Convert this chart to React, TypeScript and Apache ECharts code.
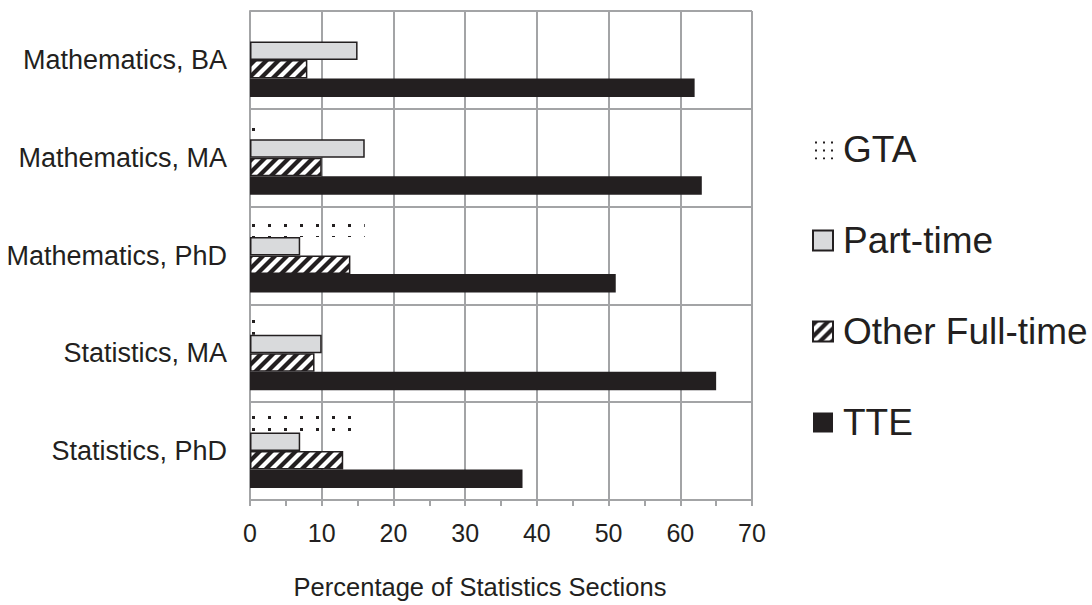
import React, { useEffect, useRef } from "react";
import * as echarts from "echarts";

const categories = [
  "Mathematics, BA",
  "Mathematics, MA",
  "Mathematics, PhD",
  "Statistics, MA",
  "Statistics, PhD",
];
const seriesNames = ["GTA", "Part-time", "Other Full-time", "TTE"];
const gtaValues = [0, 1, 16, 1, 15];
const partTimeValues = [15, 16, 7, 10, 7];
const otherFullTimeValues = [8, 10, 14, 9, 13];
const tteValues = [62, 63, 51, 65, 38];
const xMin = 0;
const xMax = 70;
const xInterval = 10;
const xAxisTitle = "Percentage of Statistics Sections";

const INK = "#231f20";
const GRID = "#a3a4a6";
const FONT = "'Liberation Sans', Arial, sans-serif";

function makeDots(w: number, h: number, x: number, y: number, s: number): HTMLCanvasElement {
  const c = document.createElement("canvas");
  c.width = w;
  c.height = h;
  const ctx = c.getContext("2d")!;
  ctx.clearRect(0, 0, w, h);
  ctx.fillStyle = INK;
  ctx.fillRect(x, y, s, s);
  return c;
}

function makeHatch(): HTMLCanvasElement {
  const s = 12;
  const w = 6;
  const c = document.createElement("canvas");
  c.width = s;
  c.height = s;
  const ctx = c.getContext("2d")!;
  ctx.fillStyle = "#ffffff";
  ctx.fillRect(0, 0, s, s);
  ctx.fillStyle = INK;
  for (let k = -1; k <= 1; k++) {
    ctx.beginPath();
    ctx.moveTo(k * s, s);
    ctx.lineTo(k * s + w, s);
    ctx.lineTo(k * s + w + s, 0);
    ctx.lineTo(k * s + s, 0);
    ctx.closePath();
    ctx.fill();
  }
  return c;
}

export default function App() {
  const ref = useRef<HTMLDivElement>(null);
  useEffect(() => {
    if (!ref.current) return;
    const chart = echarts.init(ref.current, undefined, { renderer: "svg" });
    const dots = makeDots(16, 12, 12, 8, 3);
    const legendDots = makeDots(8, 8, 2, 2, 2);
    const hatch = makeHatch();
    const barW = 18.5;
    const values = [gtaValues, partTimeValues, otherFullTimeValues, tteValues];
    const styles: any[] = [
      { color: { image: dots, repeat: "repeat" }, borderWidth: 0 },
      { color: "#d9dadc", borderColor: INK, borderWidth: 1.5 },
      { color: { image: hatch, repeat: "repeat" }, borderColor: INK, borderWidth: 1.5 },
      { color: INK, borderColor: INK, borderWidth: 0 },
    ];
    chart.setOption({
      animation: false,
      backgroundColor: "#ffffff",
      grid: { left: 250, right: 340, top: 11, bottom: 100, containLabel: false },
      legend: {
        orient: "vertical",
        left: 807,
        top: 126,
        icon: "rect",
        itemWidth: 20,
        itemHeight: 20,
        itemGap: 54,
        data: seriesNames.map((n, i) =>
          i === 0
            ? { name: n, itemStyle: { color: { image: legendDots, repeat: "repeat" }, borderWidth: 0 } }
            : { name: n }
        ),
        textStyle: { fontSize: 37, color: INK, fontFamily: FONT, padding: [0, 0, 0, 5] },
      },
      xAxis: {
        type: "value",
        min: xMin,
        max: xMax,
        interval: xInterval,
        name: xAxisTitle,
        nameLocation: "middle",
        nameGap: 74,
        nameTextStyle: { fontSize: 25.5, color: INK, fontFamily: FONT, padding: [0, 42, 0, 0] },
        axisLine: { show: true, lineStyle: { color: GRID, width: 2 } },
        axisTick: { show: true, length: 6, lineStyle: { color: GRID, width: 2 } },
        minorTick: { show: true, splitNumber: 2, length: 6, lineStyle: { color: GRID, width: 2 } },
        splitLine: { show: true, lineStyle: { color: GRID, width: 2 } },
        axisLabel: { fontSize: 25, color: INK, fontFamily: FONT, margin: 20 },
      },
      yAxis: {
        type: "category",
        data: categories,
        inverse: true,
        axisLine: { show: true, lineStyle: { color: GRID, width: 2 } },
        axisTick: { show: false },
        splitLine: { show: true, lineStyle: { color: GRID, width: 2 } },
        axisLabel: { fontSize: 27, color: INK, fontFamily: FONT, margin: 23 },
      },
      series: seriesNames.map((name, i) => ({
        name,
        type: "bar",
        data: values[i],
        barWidth: barW,
        barGap: "0%",
        itemStyle: styles[i],
      })),
    });
    return () => chart.dispose();
  }, []);
  return (
    <div
      ref={ref}
      style={{ position: "absolute", left: 0, top: 0, width: 1092, height: 605 }}
    />
  );
}
